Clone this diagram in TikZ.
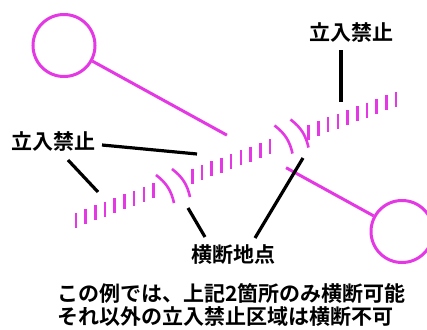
\documentclass[tikz,border=0pt]{standalone}
\usepackage{fontspec}
\setmainfont{Noto Sans CJK JP}[BoldFont={Noto Sans CJK JP Bold}]
\usetikzlibrary{calc}
\definecolor{pinkline}{RGB}{228,56,228}

\begin{document}
\begin{tikzpicture}[x=1pt,y=-1pt,
    ring/.style={draw=pinkline, line width=3pt, circle, minimum size=62pt, inner sep=0pt},
    route/.style={draw=pinkline, line width=3pt},
    hatch/.style={draw=pinkline, line width=2.6pt},
    lead/.style={draw=black, line width=3.2pt},
    lbl/.style={font=\bfseries\fontsize{21}{23}\selectfont, inner sep=0pt}]
  \useasboundingbox (0,0) rectangle (427,329);
  \clip (0,0) rectangle (427,329);
  \node[ring] (ringA) at (64,45.5) {};
  \node[ring] (ringB) at (402,231.5) {};
  \coordinate (cutA) at ($(ringA)!0.482!(ringB)$);
  \coordinate (cutB) at ($(ringA)!0.657!(ringB)$);
  \draw[route] (ringA) -- (cutA);
  \draw[route] (cutB) -- (ringB);
  % restricted strip
  \coordinate (roadS) at (76,220);
  \coordinate (roadE) at (396,99);
  \foreach \k in {0,...,8,12,13,...,20,24,25,...,33}
    \draw[hatch] ($(roadS)!\k/33!(roadE)+(0,-7.5)$) -- ++(0,15);
  % crossing marks
  \coordinate (crossL) at (173,186);
  \coordinate (crossR) at (291.5,136.5);
  \foreach \c in {crossL,crossR} {
    \draw[hatch] ($(\c)+(-17,-11)$) to[bend left=20] ($(\c)+(1,17)$);
    \draw[hatch] ($(\c)+(-1,-17)$) to[bend left=20] ($(\c)+(17,11)$);
  }
  \node[lbl] (kinshiR) at (351,33) {立入禁止};
  \node[lbl] (kinshiL) at (53,142) {立入禁止};
  \node[lbl] (oudan) at (233,255) {横断地点};
  \node[lbl, align=left, anchor=west] (note) at (57,305)
    {この例では、上記2箇所のみ横断可能\\それ以外の立入禁止区域は横断不可};
  % leaders
  \coordinate (fromR) at (341,50);
  \coordinate (toR) at (341,102);
  \coordinate (fromL1) at (102,145);
  \coordinate (toL1) at (197,154);
  \coordinate (fromL2) at (68,160);
  \coordinate (toL2) at (98,192);
  \coordinate (fromO1) at (205,237);
  \coordinate (toO1) at (188,208);
  \coordinate (fromO2) at (255,238);
  \coordinate (toO2) at (303,158);
  \draw[lead] (fromR) -- (toR);
  \draw[lead] (fromL1) -- (toL1);
  \draw[lead] (fromL2) -- (toL2);
  \draw[lead] (fromO1) -- (toO1);
  \draw[lead] (fromO2) -- (toO2);
\end{tikzpicture}
\end{document}
